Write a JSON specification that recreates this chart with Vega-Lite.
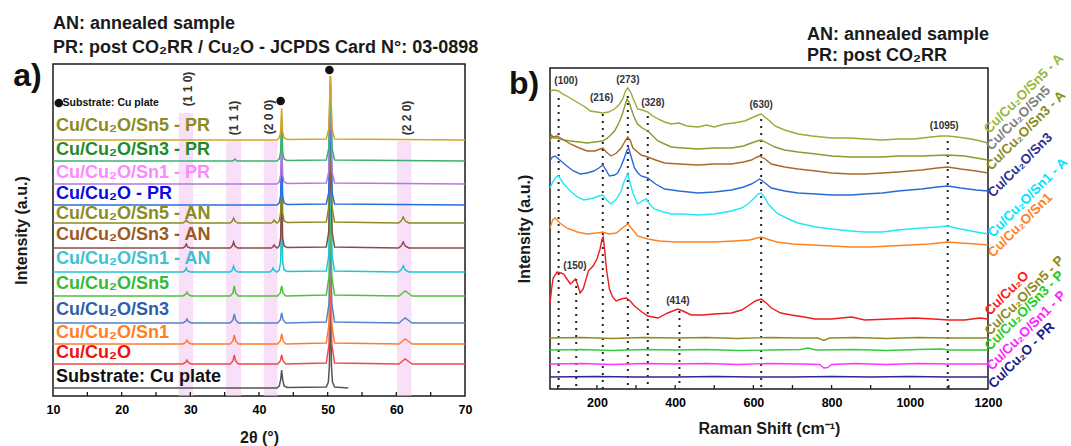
{
"$schema": "https://vega.github.io/schema/vega-lite/v6.json",
"padding": {"left": 12, "top": 14, "right": 0, "bottom": 0},
"bounds": "flush",
"spacing": 85,
"config": {
 "font": "Liberation Sans",
 "view": {"stroke": "#1a1a1a", "strokeWidth": 1.5},
 "axis": {"grid": false, "domain": false, "ticks": false, "labelFont": "Liberation Sans", "labelFontSize": 12.5, "labelFontWeight": "bold", "labelColor": "#000000", "titleFont": "Liberation Sans", "titleFontSize": 16, "titleFontWeight": "bold", "titleColor": "#1a1a1a", "labelFlush": false},
 "axisY": {"ticks": false, "labels": false}
},
"resolve": {"scale": {"color": "independent"}},
"hconcat": [
{
 "width": 412, "height": 332,
 "resolve": {"scale": {"color": "independent"}},
 "layer": [
  {"data": {"values": [{"x":28.3,"x2":30.4,"top":283},{"x":35.2,"x2":37.4,"top":255},{"x":40.7,"x2":42.7,"top":255},{"x":60.1,"x2":62.2,"top":255}]},
   "mark": {"type": "rect", "color": "#f3c6f3", "opacity": 0.55},
   "encoding": {
    "x": {"field": "x", "type": "quantitative", "scale": {"domain": [10, 70], "nice": false, "zero": false}, "title": "2θ (°)", "axis": {"title": "2θ (°)", "values": [10,20,30,40,50,60,70], "format": "d", "labelPadding": 7, "titlePadding": 14, "labelFlush": false, "labelFontWeight": "bold"}},
    "x2": {"field": "x2"},
    "y": {"field": "top", "type": "quantitative", "scale": {"domain": [0, 332], "nice": false}, "title": "Intensity (a.u.)", "axis": {"title": "Intensity (a.u.)", "titlePadding": 24}},
    "y2": {"datum": 0}
   }},
  {"data": {"values": [{"x":15},{"x":20},{"x":25},{"x":30},{"x":35},{"x":40},{"x":45},{"x":50},{"x":55},{"x":60},{"x":65}]},
   "mark": {"type": "rule", "color": "#1a1a1a", "strokeWidth": 1.3},
   "encoding": {"x": {"field": "x", "type": "quantitative"}, "y": {"datum": 0}, "y2": {"datum": 4}}},
  {"data": {"values": [
   {"s":"sub","x":10,"y":8},{"s":"sub","x":42.6,"y":8},{"s":"sub","x":42.95,"y":10},{"s":"sub","x":43.15,"y":16},{"s":"sub","x":43.3,"y":26},{"s":"sub","x":43.45,"y":16},{"s":"sub","x":43.65,"y":10},{"s":"sub","x":44.1,"y":8.5},{"s":"sub","x":49.8,"y":9},{"s":"sub","x":50.1,"y":14},{"s":"sub","x":50.25,"y":30},{"s":"sub","x":50.4,"y":110},{"s":"sub","x":50.55,"y":30},{"s":"sub","x":50.7,"y":14},{"s":"sub","x":51.0,"y":9},{"s":"sub","x":53,"y":8},
   {"s":"c0","x":10,"y":32},{"s":"c0","x":28.9,"y":32},{"s":"c0","x":29.3,"y":33.5},{"s":"c0","x":29.5,"y":36},{"s":"c0","x":29.7,"y":33.5},{"s":"c0","x":30.1,"y":32},{"s":"c0","x":35.8,"y":32},{"s":"c0","x":36.2,"y":35},{"s":"c0","x":36.4,"y":41},{"s":"c0","x":36.6,"y":35},{"s":"c0","x":37.0,"y":32},{"s":"c0","x":42.7,"y":32},{"s":"c0","x":43.1,"y":35},{"s":"c0","x":43.3,"y":41},{"s":"c0","x":43.5,"y":35},{"s":"c0","x":43.9,"y":32},{"s":"c0","x":49.8,"y":33},{"s":"c0","x":50.2,"y":52},{"s":"c0","x":50.4,"y":132},{"s":"c0","x":50.6,"y":52},{"s":"c0","x":51.0,"y":33},{"s":"c0","x":60.4,"y":32},{"s":"c0","x":60.9,"y":35},{"s":"c0","x":61.3,"y":37},{"s":"c0","x":61.7,"y":35},{"s":"c0","x":62.3,"y":32},{"s":"c0","x":70,"y":32},
   {"s":"c1","x":10,"y":52},{"s":"c1","x":28.9,"y":52},{"s":"c1","x":29.3,"y":53.5},{"s":"c1","x":29.5,"y":56},{"s":"c1","x":29.7,"y":53.5},{"s":"c1","x":30.1,"y":52},{"s":"c1","x":35.8,"y":52},{"s":"c1","x":36.2,"y":55},{"s":"c1","x":36.4,"y":61},{"s":"c1","x":36.6,"y":55},{"s":"c1","x":37.0,"y":52},{"s":"c1","x":42.7,"y":52},{"s":"c1","x":43.1,"y":55},{"s":"c1","x":43.3,"y":62},{"s":"c1","x":43.5,"y":55},{"s":"c1","x":43.9,"y":52},{"s":"c1","x":49.8,"y":53},{"s":"c1","x":50.2,"y":72},{"s":"c1","x":50.4,"y":152},{"s":"c1","x":50.6,"y":72},{"s":"c1","x":51.0,"y":53},{"s":"c1","x":60.4,"y":52},{"s":"c1","x":60.9,"y":55},{"s":"c1","x":61.3,"y":57},{"s":"c1","x":61.7,"y":55},{"s":"c1","x":62.3,"y":52},{"s":"c1","x":70,"y":52},
   {"s":"c3","x":10,"y":73},{"s":"c3","x":28.9,"y":73},{"s":"c3","x":29.3,"y":74.5},{"s":"c3","x":29.5,"y":77},{"s":"c3","x":29.7,"y":74.5},{"s":"c3","x":30.1,"y":73},{"s":"c3","x":35.8,"y":73},{"s":"c3","x":36.2,"y":76},{"s":"c3","x":36.4,"y":82},{"s":"c3","x":36.6,"y":76},{"s":"c3","x":37.0,"y":73},{"s":"c3","x":42.7,"y":73},{"s":"c3","x":43.1,"y":76},{"s":"c3","x":43.3,"y":83},{"s":"c3","x":43.5,"y":76},{"s":"c3","x":43.9,"y":73},{"s":"c3","x":49.8,"y":74},{"s":"c3","x":50.2,"y":93},{"s":"c3","x":50.4,"y":173},{"s":"c3","x":50.6,"y":93},{"s":"c3","x":51.0,"y":74},{"s":"c3","x":60.4,"y":73},{"s":"c3","x":60.9,"y":76},{"s":"c3","x":61.3,"y":78},{"s":"c3","x":61.7,"y":76},{"s":"c3","x":62.3,"y":73},{"s":"c3","x":70,"y":73},
   {"s":"c5","x":10,"y":100},{"s":"c5","x":28.9,"y":100},{"s":"c5","x":29.3,"y":101.5},{"s":"c5","x":29.5,"y":104},{"s":"c5","x":29.7,"y":101.5},{"s":"c5","x":30.1,"y":100},{"s":"c5","x":35.8,"y":100},{"s":"c5","x":36.2,"y":103},{"s":"c5","x":36.4,"y":110},{"s":"c5","x":36.6,"y":103},{"s":"c5","x":37.0,"y":100},{"s":"c5","x":42.7,"y":100},{"s":"c5","x":43.1,"y":103},{"s":"c5","x":43.3,"y":110},{"s":"c5","x":43.5,"y":103},{"s":"c5","x":43.9,"y":100},{"s":"c5","x":49.8,"y":101},{"s":"c5","x":50.2,"y":120},{"s":"c5","x":50.4,"y":200},{"s":"c5","x":50.6,"y":120},{"s":"c5","x":51.0,"y":101},{"s":"c5","x":60.4,"y":100},{"s":"c5","x":60.9,"y":103},{"s":"c5","x":61.3,"y":105},{"s":"c5","x":61.7,"y":103},{"s":"c5","x":62.3,"y":100},{"s":"c5","x":70,"y":100},
   {"s":"a1","x":10,"y":124},{"s":"a1","x":28.9,"y":124},{"s":"a1","x":29.2,"y":125},{"s":"a1","x":29.4,"y":128},{"s":"a1","x":29.6,"y":125},{"s":"a1","x":30.0,"y":124},{"s":"a1","x":35.8,"y":124},{"s":"a1","x":36.1,"y":126},{"s":"a1","x":36.3,"y":130},{"s":"a1","x":36.5,"y":126},{"s":"a1","x":36.9,"y":124},{"s":"a1","x":41.6,"y":124},{"s":"a1","x":41.85,"y":125.5},{"s":"a1","x":42.05,"y":128},{"s":"a1","x":42.25,"y":125.5},{"s":"a1","x":42.6,"y":124},{"s":"a1","x":42.95,"y":126},{"s":"a1","x":43.15,"y":134},{"s":"a1","x":43.3,"y":184},{"s":"a1","x":43.45,"y":134},{"s":"a1","x":43.65,"y":126},{"s":"a1","x":44.1,"y":124.5},{"s":"a1","x":49.8,"y":125},{"s":"a1","x":50.15,"y":140},{"s":"a1","x":50.4,"y":224},{"s":"a1","x":50.65,"y":140},{"s":"a1","x":51.0,"y":125},{"s":"a1","x":60.3,"y":124},{"s":"a1","x":60.7,"y":126},{"s":"a1","x":61.0,"y":130},{"s":"a1","x":61.3,"y":126},{"s":"a1","x":61.8,"y":124},{"s":"a1","x":70,"y":124},
   {"s":"a3","x":10,"y":148},{"s":"a3","x":28.9,"y":148},{"s":"a3","x":29.2,"y":149},{"s":"a3","x":29.4,"y":152},{"s":"a3","x":29.6,"y":149},{"s":"a3","x":30.0,"y":148},{"s":"a3","x":35.8,"y":148},{"s":"a3","x":36.1,"y":150},{"s":"a3","x":36.3,"y":154},{"s":"a3","x":36.5,"y":150},{"s":"a3","x":36.9,"y":148},{"s":"a3","x":41.8,"y":148},{"s":"a3","x":42.0,"y":149},{"s":"a3","x":42.2,"y":151},{"s":"a3","x":42.4,"y":149},{"s":"a3","x":42.65,"y":148},{"s":"a3","x":42.95,"y":150},{"s":"a3","x":43.15,"y":158},{"s":"a3","x":43.3,"y":208},{"s":"a3","x":43.45,"y":158},{"s":"a3","x":43.65,"y":150},{"s":"a3","x":44.1,"y":148.5},{"s":"a3","x":49.8,"y":149},{"s":"a3","x":50.15,"y":164},{"s":"a3","x":50.4,"y":248},{"s":"a3","x":50.65,"y":164},{"s":"a3","x":51.0,"y":149},{"s":"a3","x":60.3,"y":148},{"s":"a3","x":60.7,"y":150},{"s":"a3","x":61.0,"y":154},{"s":"a3","x":61.3,"y":150},{"s":"a3","x":61.8,"y":148},{"s":"a3","x":70,"y":148},
   {"s":"a5","x":10,"y":173},{"s":"a5","x":28.9,"y":173},{"s":"a5","x":29.2,"y":174},{"s":"a5","x":29.4,"y":176},{"s":"a5","x":29.6,"y":174},{"s":"a5","x":30.0,"y":173},{"s":"a5","x":35.8,"y":173},{"s":"a5","x":36.1,"y":175},{"s":"a5","x":36.3,"y":178},{"s":"a5","x":36.5,"y":175},{"s":"a5","x":36.9,"y":173},{"s":"a5","x":41.8,"y":173},{"s":"a5","x":42.0,"y":174},{"s":"a5","x":42.2,"y":176},{"s":"a5","x":42.4,"y":174},{"s":"a5","x":42.65,"y":173},{"s":"a5","x":42.95,"y":175},{"s":"a5","x":43.15,"y":183},{"s":"a5","x":43.3,"y":233},{"s":"a5","x":43.45,"y":183},{"s":"a5","x":43.65,"y":175},{"s":"a5","x":44.1,"y":173.5},{"s":"a5","x":49.8,"y":174},{"s":"a5","x":50.15,"y":189},{"s":"a5","x":50.4,"y":273},{"s":"a5","x":50.65,"y":189},{"s":"a5","x":51.0,"y":174},{"s":"a5","x":60.3,"y":173},{"s":"a5","x":60.7,"y":175},{"s":"a5","x":61.0,"y":179},{"s":"a5","x":61.3,"y":175},{"s":"a5","x":61.8,"y":173},{"s":"a5","x":70,"y":173},
   {"s":"p0","x":10,"y":191},{"s":"p0","x":42.6,"y":191},{"s":"p0","x":42.95,"y":193},{"s":"p0","x":43.15,"y":200},{"s":"p0","x":43.3,"y":241},{"s":"p0","x":43.45,"y":200},{"s":"p0","x":43.65,"y":193},{"s":"p0","x":44.1,"y":191.5},{"s":"p0","x":49.8,"y":192},{"s":"p0","x":50.15,"y":203},{"s":"p0","x":50.4,"y":291},{"s":"p0","x":50.65,"y":203},{"s":"p0","x":51.0,"y":192},{"s":"p0","x":70,"y":191},
   {"s":"p1","x":10,"y":212},{"s":"p1","x":42.6,"y":212},{"s":"p1","x":42.95,"y":214},{"s":"p1","x":43.15,"y":221},{"s":"p1","x":43.3,"y":262},{"s":"p1","x":43.45,"y":221},{"s":"p1","x":43.65,"y":214},{"s":"p1","x":44.1,"y":212.5},{"s":"p1","x":49.8,"y":213},{"s":"p1","x":50.15,"y":224},{"s":"p1","x":50.4,"y":312},{"s":"p1","x":50.65,"y":224},{"s":"p1","x":51.0,"y":213},{"s":"p1","x":70,"y":212},
   {"s":"p3","x":10,"y":235},{"s":"p3","x":36.2,"y":235},{"s":"p3","x":36.5,"y":237},{"s":"p3","x":36.8,"y":235},{"s":"p3","x":42.6,"y":235},{"s":"p3","x":42.95,"y":237},{"s":"p3","x":43.15,"y":244},{"s":"p3","x":43.3,"y":280},{"s":"p3","x":43.45,"y":244},{"s":"p3","x":43.65,"y":237},{"s":"p3","x":44.1,"y":235.5},{"s":"p3","x":49.8,"y":236},{"s":"p3","x":50.15,"y":247},{"s":"p3","x":50.4,"y":320},{"s":"p3","x":50.65,"y":247},{"s":"p3","x":51.0,"y":236},{"s":"p3","x":70,"y":235},
   {"s":"p5","x":10,"y":256},{"s":"p5","x":42.6,"y":256},{"s":"p5","x":42.95,"y":258},{"s":"p5","x":43.15,"y":264},{"s":"p5","x":43.3,"y":288},{"s":"p5","x":43.45,"y":264},{"s":"p5","x":43.65,"y":258},{"s":"p5","x":44.1,"y":256.5},{"s":"p5","x":49.8,"y":257},{"s":"p5","x":50.15,"y":267},{"s":"p5","x":50.4,"y":320},{"s":"p5","x":50.65,"y":267},{"s":"p5","x":51.0,"y":257},{"s":"p5","x":70,"y":256}
  ]},
   "mark": {"type": "line", "strokeWidth": 1.5},
   "encoding": {
    "x": {"field": "x", "type": "quantitative"},
    "y": {"field": "y", "type": "quantitative"},
    "color": {"field": "s", "type": "nominal", "legend": null, "scale": {"domain": ["sub","c0","c1","c3","c5","a1","a3","a5","p0","p1","p3","p5"], "range": ["#555555","#f04848","#ff7a30","#5582c8","#4cc238","#22c4d4","#8b4a4a","#8b8b22","#2a6fe0","#b07ae0","#3cb070","#d8a428"]}}
   }},
  {"data": {"values": [{"x":43.15,"y":295},{"x":50.25,"y":326},{"x":10.85,"y":293}]},
   "mark": {"type": "point", "filled": true, "color": "#111111", "opacity": 1, "size": 75},
   "encoding": {"x": {"field": "x", "type": "quantitative"}, "y": {"field": "y", "type": "quantitative"}}},
  {"data": {"values": [{"t":"(1 1 0)","x":29.6,"y":307},{"t":"(1 1 1)","x":36.4,"y":278},{"t":"(2 0 0)","x":41.5,"y":279},{"t":"(2 2 0)","x":61.5,"y":278}]},
   "mark": {"type": "text", "angle": 270, "fontSize": 12, "fontWeight": "bold", "color": "#333333", "align": "center", "baseline": "middle"},
   "encoding": {"x": {"field": "x", "type": "quantitative"}, "y": {"field": "y", "type": "quantitative"}, "text": {"field": "t"}}},
  {"data": {"values": [
   {"k":"p5","t":"Cu/Cu₂O/Sn5 - PR","y":270},{"k":"p3","t":"Cu/Cu₂O/Sn3 - PR","y":246},{"k":"p1","t":"Cu/Cu₂O/Sn1 - PR","y":223},{"k":"p0","t":"Cu/Cu₂O - PR","y":202},{"k":"a5","t":"Cu/Cu₂O/Sn5 - AN","y":182},{"k":"a3","t":"Cu/Cu₂O/Sn3 - AN","y":161},{"k":"a1","t":"Cu/Cu₂O/Sn1 - AN","y":137},{"k":"c5","t":"Cu/Cu₂O/Sn5","y":112},{"k":"c3","t":"Cu/Cu₂O/Sn3","y":86},{"k":"c1","t":"Cu/Cu₂O/Sn1","y":63},{"k":"c0","t":"Cu/Cu₂O","y":43},{"k":"sub","t":"Substrate: Cu plate","y":19}
  ]},
   "mark": {"type": "text", "align": "left", "baseline": "middle", "fontSize": 18, "fontWeight": "bold"},
   "encoding": {"x": {"datum": 10.45, "type": "quantitative"}, "y": {"field": "y", "type": "quantitative"}, "text": {"field": "t"},
    "color": {"field": "k", "type": "nominal", "legend": null, "scale": {"domain": ["p5","p3","p1","p0","a5","a3","a1","c5","c3","c1","c0","sub"], "range": ["#8b8b1e","#1e8a2a","#ff88ff","#0a0ae0","#8b8b1e","#9c5a22","#40c0d0","#33bb33","#2e5fa8","#ff7f27","#ee1111","#111111"]}}}},
  {"data": {"values": [{"t":"Substrate: Cu plate","x":11.4,"y":293}]},
   "mark": {"type": "text", "align": "left", "baseline": "middle", "fontSize": 10.5, "fontWeight": "bold", "color": "#111111"},
   "encoding": {"x": {"field": "x", "type": "quantitative"}, "y": {"field": "y", "type": "quantitative"}, "text": {"field": "t"}}},
  {"data": {"values": [{"t":"AN: annealed sample","x":10,"y":372},{"t":"PR: post CO₂RR / Cu₂O - JCPDS Card N°: 03-0898","x":10,"y":348}]},
   "mark": {"type": "text", "align": "left", "baseline": "middle", "fontSize": 18, "fontWeight": "bold", "color": "#1a1a1a"},
   "encoding": {"x": {"field": "x", "type": "quantitative"}, "y": {"field": "y", "type": "quantitative"}, "text": {"field": "t"}}},
  {"data": {"values": [{"t":"a)","x":4.2,"y":320}]},
   "mark": {"type": "text", "align": "left", "baseline": "middle", "fontSize": 32, "fontWeight": "bold", "color": "#111111"},
   "encoding": {"x": {"field": "x", "type": "quantitative"}, "y": {"field": "y", "type": "quantitative"}, "text": {"field": "t"}}}
 ]
},
{
 "vconcat": [
  {"width": 438, "height": 4, "view": {"stroke": null}, "data": {"values": [{"v": 0}]}, "mark": {"type": "point", "opacity": 0}, "encoding": {}},
  {
   "width": 438, "height": 321,
   "resolve": {"scale": {"color": "independent"}},
   "layer": [
    {"data": {"values": [{"x":102,"top":291},{"x":147,"top":110},{"x":215,"top":275},{"x":279,"top":293},{"x":330,"top":273},{"x":411,"top":78},{"x":620,"top":270},{"x":1097,"top":248}]},
     "mark": {"type": "rule", "strokeDash": [2, 5], "strokeWidth": 2, "color": "#222222"},
     "encoding": {
      "x": {"field": "x", "type": "quantitative", "scale": {"domain": [80, 1200], "nice": false, "zero": false}, "title": "Raman Shift (cm⁻¹)", "axis": {"title": "Raman Shift (cm⁻¹)", "values": [200,400,600,800,1000,1200], "format": "d", "labelPadding": 7, "titlePadding": 12, "labelFlush": false, "labelFontWeight": "bold"}},
      "y": {"field": "top", "type": "quantitative", "scale": {"domain": [0, 321], "nice": false}, "title": "Intensity (a.u.)", "axis": {"title": "Intensity (a.u.)", "titlePadding": 18}},
      "y2": {"datum": 0}
     }},
    {"data": {"values": [{"x":100},{"x":200},{"x":300},{"x":400},{"x":500},{"x":600},{"x":700},{"x":800},{"x":900},{"x":1000},{"x":1100}]},
     "mark": {"type": "rule", "color": "#1a1a1a", "strokeWidth": 1.3},
     "encoding": {"x": {"field": "x", "type": "quantitative"}, "y": {"datum": 0}, "y2": {"datum": 4}}},
    {"data": {"values": [
     {"s":"r5a","x":80,"y":298},{"s":"r5a","x":90,"y":299},{"s":"r5a","x":102,"y":298},{"s":"r5a","x":112,"y":295},{"s":"r5a","x":123,"y":293},{"s":"r5a","x":140,"y":289},{"s":"r5a","x":157,"y":285},{"s":"r5a","x":170,"y":282},{"s":"r5a","x":183,"y":278},{"s":"r5a","x":200,"y":277},{"s":"r5a","x":215,"y":276},{"s":"r5a","x":230,"y":277},{"s":"r5a","x":245,"y":280},{"s":"r5a","x":256,"y":284},{"s":"r5a","x":266,"y":290},{"s":"r5a","x":273,"y":298},{"s":"r5a","x":279,"y":301},{"s":"r5a","x":286,"y":297},{"s":"r5a","x":292,"y":291},{"s":"r5a","x":304,"y":280},{"s":"r5a","x":316,"y":279},{"s":"r5a","x":330,"y":277},{"s":"r5a","x":343,"y":273},{"s":"r5a","x":356,"y":270},{"s":"r5a","x":373,"y":267},{"s":"r5a","x":390,"y":265},{"s":"r5a","x":410,"y":266},{"s":"r5a","x":430,"y":263},{"s":"r5a","x":459,"y":262},{"s":"r5a","x":480,"y":264},{"s":"r5a","x":500,"y":262},{"s":"r5a","x":527,"y":265},{"s":"r5a","x":550,"y":266},{"s":"r5a","x":578,"y":268},{"s":"r5a","x":595,"y":271},{"s":"r5a","x":612,"y":274},{"s":"r5a","x":620,"y":275},{"s":"r5a","x":629,"y":272},{"s":"r5a","x":642,"y":268},{"s":"r5a","x":655,"y":263},{"s":"r5a","x":680,"y":259},{"s":"r5a","x":714,"y":255},{"s":"r5a","x":750,"y":253},{"s":"r5a","x":800,"y":251},{"s":"r5a","x":850,"y":251},{"s":"r5a","x":885,"y":250},{"s":"r5a","x":930,"y":249},{"s":"r5a","x":970,"y":250},{"s":"r5a","x":1010,"y":250},{"s":"r5a","x":1055,"y":252},{"s":"r5a","x":1080,"y":253},{"s":"r5a","x":1097,"y":253},{"s":"r5a","x":1120,"y":252},{"s":"r5a","x":1140,"y":251},{"s":"r5a","x":1170,"y":249},{"s":"r5a","x":1200,"y":246},
     {"s":"r5","x":80,"y":248},{"s":"r5","x":84,"y":254},{"s":"r5","x":90,"y":251},{"s":"r5","x":98,"y":251},{"s":"r5","x":115,"y":249},{"s":"r5","x":132,"y":248},{"s":"r5","x":155,"y":247},{"s":"r5","x":175,"y":246},{"s":"r5","x":195,"y":247},{"s":"r5","x":215,"y":248},{"s":"r5","x":230,"y":252},{"s":"r5","x":245,"y":258},{"s":"r5","x":256,"y":266},{"s":"r5","x":266,"y":276},{"s":"r5","x":272,"y":284},{"s":"r5","x":277,"y":290},{"s":"r5","x":282,"y":287},{"s":"r5","x":287,"y":281},{"s":"r5","x":295,"y":272},{"s":"r5","x":304,"y":265},{"s":"r5","x":316,"y":261},{"s":"r5","x":330,"y":258},{"s":"r5","x":343,"y":253},{"s":"r5","x":356,"y":248},{"s":"r5","x":373,"y":245},{"s":"r5","x":390,"y":242},{"s":"r5","x":420,"y":241},{"s":"r5","x":459,"y":240},{"s":"r5","x":500,"y":241},{"s":"r5","x":544,"y":241},{"s":"r5","x":575,"y":243},{"s":"r5","x":595,"y":246},{"s":"r5","x":610,"y":248},{"s":"r5","x":620,"y":249},{"s":"r5","x":635,"y":246},{"s":"r5","x":655,"y":242},{"s":"r5","x":680,"y":239},{"s":"r5","x":714,"y":237},{"s":"r5","x":760,"y":235},{"s":"r5","x":800,"y":233},{"s":"r5","x":850,"y":232},{"s":"r5","x":885,"y":232},{"s":"r5","x":930,"y":232},{"s":"r5","x":970,"y":233},{"s":"r5","x":1030,"y":233},{"s":"r5","x":1097,"y":234},{"s":"r5","x":1140,"y":233},{"s":"r5","x":1170,"y":231},{"s":"r5","x":1200,"y":229},
     {"s":"r3a","x":80,"y":250},{"s":"r3a","x":88,"y":252},{"s":"r3a","x":98,"y":253},{"s":"r3a","x":115,"y":249},{"s":"r3a","x":132,"y":245},{"s":"r3a","x":155,"y":241},{"s":"r3a","x":175,"y":238},{"s":"r3a","x":195,"y":238},{"s":"r3a","x":208,"y":240},{"s":"r3a","x":215,"y":241},{"s":"r3a","x":224,"y":237},{"s":"r3a","x":236,"y":233},{"s":"r3a","x":250,"y":236},{"s":"r3a","x":262,"y":241},{"s":"r3a","x":272,"y":248},{"s":"r3a","x":279,"y":252},{"s":"r3a","x":286,"y":248},{"s":"r3a","x":292,"y":241},{"s":"r3a","x":304,"y":237},{"s":"r3a","x":313,"y":234},{"s":"r3a","x":330,"y":232},{"s":"r3a","x":350,"y":229},{"s":"r3a","x":373,"y":226},{"s":"r3a","x":410,"y":225},{"s":"r3a","x":459,"y":224},{"s":"r3a","x":500,"y":225},{"s":"r3a","x":544,"y":225},{"s":"r3a","x":575,"y":227},{"s":"r3a","x":595,"y":229},{"s":"r3a","x":610,"y":232},{"s":"r3a","x":616,"y":233},{"s":"r3a","x":630,"y":230},{"s":"r3a","x":646,"y":225},{"s":"r3a","x":680,"y":222},{"s":"r3a","x":714,"y":220},{"s":"r3a","x":760,"y":218},{"s":"r3a","x":800,"y":216},{"s":"r3a","x":850,"y":215},{"s":"r3a","x":885,"y":215},{"s":"r3a","x":930,"y":216},{"s":"r3a","x":970,"y":217},{"s":"r3a","x":1030,"y":219},{"s":"r3a","x":1070,"y":221},{"s":"r3a","x":1097,"y":222},{"s":"r3a","x":1130,"y":220},{"s":"r3a","x":1170,"y":218},{"s":"r3a","x":1200,"y":216},
     {"s":"r3","x":80,"y":228},{"s":"r3","x":86,"y":232},{"s":"r3","x":93,"y":233},{"s":"r3","x":105,"y":229},{"s":"r3","x":123,"y":223},{"s":"r3","x":140,"y":218},{"s":"r3","x":157,"y":215},{"s":"r3","x":175,"y":216},{"s":"r3","x":192,"y":218},{"s":"r3","x":205,"y":221},{"s":"r3","x":215,"y":224},{"s":"r3","x":223,"y":219},{"s":"r3","x":232,"y":213},{"s":"r3","x":245,"y":214},{"s":"r3","x":253,"y":216},{"s":"r3","x":262,"y":223},{"s":"r3","x":270,"y":231},{"s":"r3","x":276,"y":238},{"s":"r3","x":281,"y":241},{"s":"r3","x":287,"y":233},{"s":"r3","x":296,"y":221},{"s":"r3","x":305,"y":216},{"s":"r3","x":313,"y":213},{"s":"r3","x":330,"y":211},{"s":"r3","x":350,"y":205},{"s":"r3","x":373,"y":200},{"s":"r3","x":410,"y":198},{"s":"r3","x":459,"y":196},{"s":"r3","x":500,"y":197},{"s":"r3","x":544,"y":199},{"s":"r3","x":575,"y":202},{"s":"r3","x":595,"y":205},{"s":"r3","x":608,"y":208},{"s":"r3","x":616,"y":210},{"s":"r3","x":630,"y":206},{"s":"r3","x":646,"y":201},{"s":"r3","x":680,"y":198},{"s":"r3","x":714,"y":196},{"s":"r3","x":760,"y":195},{"s":"r3","x":800,"y":194},{"s":"r3","x":850,"y":194},{"s":"r3","x":885,"y":195},{"s":"r3","x":930,"y":196},{"s":"r3","x":970,"y":198},{"s":"r3","x":1030,"y":200},{"s":"r3","x":1070,"y":202},{"s":"r3","x":1097,"y":203},{"s":"r3","x":1130,"y":201},{"s":"r3","x":1170,"y":199},{"s":"r3","x":1200,"y":198},
     {"s":"r1a","x":80,"y":201},{"s":"r1a","x":88,"y":208},{"s":"r1a","x":95,"y":212},{"s":"r1a","x":102,"y":213},{"s":"r1a","x":115,"y":205},{"s":"r1a","x":132,"y":198},{"s":"r1a","x":150,"y":192},{"s":"r1a","x":166,"y":189},{"s":"r1a","x":180,"y":190},{"s":"r1a","x":192,"y":191},{"s":"r1a","x":205,"y":193},{"s":"r1a","x":215,"y":194},{"s":"r1a","x":225,"y":189},{"s":"r1a","x":236,"y":185},{"s":"r1a","x":250,"y":190},{"s":"r1a","x":262,"y":198},{"s":"r1a","x":270,"y":208},{"s":"r1a","x":279,"y":215},{"s":"r1a","x":285,"y":206},{"s":"r1a","x":292,"y":196},{"s":"r1a","x":304,"y":185},{"s":"r1a","x":315,"y":188},{"s":"r1a","x":326,"y":190},{"s":"r1a","x":337,"y":184},{"s":"r1a","x":347,"y":180},{"s":"r1a","x":370,"y":177},{"s":"r1a","x":390,"y":175},{"s":"r1a","x":420,"y":175},{"s":"r1a","x":459,"y":174},{"s":"r1a","x":500,"y":175},{"s":"r1a","x":544,"y":178},{"s":"r1a","x":570,"y":181},{"s":"r1a","x":586,"y":185},{"s":"r1a","x":600,"y":190},{"s":"r1a","x":612,"y":195},{"s":"r1a","x":620,"y":196},{"s":"r1a","x":630,"y":191},{"s":"r1a","x":638,"y":185},{"s":"r1a","x":650,"y":180},{"s":"r1a","x":663,"y":175},{"s":"r1a","x":690,"y":170},{"s":"r1a","x":714,"y":166},{"s":"r1a","x":760,"y":162},{"s":"r1a","x":800,"y":160},{"s":"r1a","x":850,"y":158},{"s":"r1a","x":885,"y":157},{"s":"r1a","x":930,"y":157},{"s":"r1a","x":970,"y":159},{"s":"r1a","x":1030,"y":161},{"s":"r1a","x":1070,"y":162},{"s":"r1a","x":1097,"y":163},{"s":"r1a","x":1130,"y":160},{"s":"r1a","x":1170,"y":157},{"s":"r1a","x":1200,"y":155},
     {"s":"r1","x":80,"y":161},{"s":"r1","x":87,"y":169},{"s":"r1","x":93,"y":171},{"s":"r1","x":105,"y":166},{"s":"r1","x":123,"y":161},{"s":"r1","x":150,"y":157},{"s":"r1","x":175,"y":155},{"s":"r1","x":200,"y":156},{"s":"r1","x":215,"y":157},{"s":"r1","x":230,"y":155},{"s":"r1","x":250,"y":156},{"s":"r1","x":265,"y":161},{"s":"r1","x":279,"y":165},{"s":"r1","x":290,"y":160},{"s":"r1","x":304,"y":153},{"s":"r1","x":330,"y":150},{"s":"r1","x":360,"y":148},{"s":"r1","x":400,"y":147},{"s":"r1","x":450,"y":147},{"s":"r1","x":500,"y":147},{"s":"r1","x":550,"y":148},{"s":"r1","x":590,"y":149},{"s":"r1","x":610,"y":151},{"s":"r1","x":620,"y":152},{"s":"r1","x":635,"y":150},{"s":"r1","x":660,"y":147},{"s":"r1","x":700,"y":145},{"s":"r1","x":750,"y":144},{"s":"r1","x":800,"y":143},{"s":"r1","x":850,"y":142},{"s":"r1","x":900,"y":142},{"s":"r1","x":950,"y":143},{"s":"r1","x":1000,"y":144},{"s":"r1","x":1050,"y":145},{"s":"r1","x":1097,"y":147},{"s":"r1","x":1130,"y":146},{"s":"r1","x":1170,"y":145},{"s":"r1","x":1200,"y":144},
     {"s":"r0","x":80,"y":85},{"s":"r0","x":84,"y":100},{"s":"r0","x":88,"y":111},{"s":"r0","x":98,"y":117},{"s":"r0","x":108,"y":116},{"s":"r0","x":115,"y":115},{"s":"r0","x":125,"y":109},{"s":"r0","x":132,"y":105},{"s":"r0","x":140,"y":108},{"s":"r0","x":145,"y":110},{"s":"r0","x":150,"y":105},{"s":"r0","x":157,"y":96},{"s":"r0","x":165,"y":100},{"s":"r0","x":178,"y":118},{"s":"r0","x":190,"y":123},{"s":"r0","x":200,"y":130},{"s":"r0","x":208,"y":140},{"s":"r0","x":213,"y":150},{"s":"r0","x":216,"y":152},{"s":"r0","x":220,"y":138},{"s":"r0","x":225,"y":118},{"s":"r0","x":232,"y":100},{"s":"r0","x":240,"y":92},{"s":"r0","x":249,"y":88},{"s":"r0","x":262,"y":90},{"s":"r0","x":275,"y":91},{"s":"r0","x":285,"y":88},{"s":"r0","x":296,"y":83},{"s":"r0","x":315,"y":77},{"s":"r0","x":330,"y":73},{"s":"r0","x":356,"y":71},{"s":"r0","x":381,"y":76},{"s":"r0","x":407,"y":80},{"s":"r0","x":420,"y":78},{"s":"r0","x":441,"y":74},{"s":"r0","x":470,"y":74},{"s":"r0","x":501,"y":75},{"s":"r0","x":544,"y":76},{"s":"r0","x":570,"y":79},{"s":"r0","x":586,"y":83},{"s":"r0","x":605,"y":88},{"s":"r0","x":620,"y":90},{"s":"r0","x":633,"y":86},{"s":"r0","x":646,"y":81},{"s":"r0","x":670,"y":76},{"s":"r0","x":697,"y":74},{"s":"r0","x":730,"y":72},{"s":"r0","x":757,"y":70},{"s":"r0","x":800,"y":70},{"s":"r0","x":851,"y":72},{"s":"r0","x":885,"y":69},{"s":"r0","x":950,"y":70},{"s":"r0","x":1013,"y":71},{"s":"r0","x":1060,"y":70},{"s":"r0","x":1100,"y":69},{"s":"r0","x":1140,"y":69},{"s":"r0","x":1180,"y":71},{"s":"r0","x":1200,"y":70},
     {"s":"q5","x":80,"y":51},{"s":"q5","x":160,"y":51.5},{"s":"q5","x":240,"y":50.5},{"s":"q5","x":320,"y":51.5},{"s":"q5","x":400,"y":51},{"s":"q5","x":480,"y":51.5},{"s":"q5","x":560,"y":50.5},{"s":"q5","x":640,"y":51.5},{"s":"q5","x":720,"y":51},{"s":"q5","x":765,"y":51},{"s":"q5","x":780,"y":48.5},{"s":"q5","x":795,"y":51},{"s":"q5","x":860,"y":51.5},{"s":"q5","x":940,"y":50.5},{"s":"q5","x":1020,"y":51.5},{"s":"q5","x":1100,"y":51},{"s":"q5","x":1200,"y":51},
     {"s":"q3","x":80,"y":39},{"s":"q3","x":160,"y":39.5},{"s":"q3","x":240,"y":38.5},{"s":"q3","x":320,"y":39.5},{"s":"q3","x":400,"y":39},{"s":"q3","x":480,"y":39.5},{"s":"q3","x":560,"y":38.5},{"s":"q3","x":640,"y":39},{"s":"q3","x":720,"y":39.5},{"s":"q3","x":740,"y":41},{"s":"q3","x":760,"y":39},{"s":"q3","x":860,"y":39.5},{"s":"q3","x":940,"y":38.5},{"s":"q3","x":1020,"y":39.5},{"s":"q3","x":1080,"y":40},{"s":"q3","x":1100,"y":39},{"s":"q3","x":1200,"y":39},
     {"s":"q1","x":80,"y":25},{"s":"q1","x":160,"y":25.5},{"s":"q1","x":240,"y":24.5},{"s":"q1","x":320,"y":25.5},{"s":"q1","x":400,"y":25},{"s":"q1","x":480,"y":25.5},{"s":"q1","x":560,"y":24.5},{"s":"q1","x":640,"y":25.5},{"s":"q1","x":720,"y":25},{"s":"q1","x":770,"y":24.5},{"s":"q1","x":780,"y":21},{"s":"q1","x":790,"y":21.5},{"s":"q1","x":800,"y":24.5},{"s":"q1","x":860,"y":25.5},{"s":"q1","x":940,"y":24.5},{"s":"q1","x":1020,"y":25.5},{"s":"q1","x":1100,"y":25},{"s":"q1","x":1200,"y":25},
     {"s":"q0","x":80,"y":12},{"s":"q0","x":200,"y":12.5},{"s":"q0","x":300,"y":12},{"s":"q0","x":400,"y":12},{"s":"q0","x":500,"y":12.5},{"s":"q0","x":600,"y":12},{"s":"q0","x":700,"y":12},{"s":"q0","x":800,"y":12.5},{"s":"q0","x":900,"y":12},{"s":"q0","x":1000,"y":12.5},{"s":"q0","x":1100,"y":12},{"s":"q0","x":1200,"y":12}
    ]},
     "mark": {"type": "line", "strokeWidth": 1.4},
     "encoding": {
      "x": {"field": "x", "type": "quantitative"},
      "y": {"field": "y", "type": "quantitative"},
      "color": {"field": "s", "type": "nominal", "legend": null, "scale": {"domain": ["r5a","r5","r3a","r3","r1a","r1","r0","q5","q3","q1","q0"], "range": ["#9aaa38","#8a9a2c","#a86a28","#2a6ad8","#22e8f5","#ff8020","#ee1c1c","#8b8b1e","#33cc44","#ff33ff","#2a2a90"]}}
     }},
    {"data": {"values": [{"t":"(100)","x":121,"y":308},{"t":"(216)","x":212,"y":291},{"t":"(273)","x":279,"y":309},{"t":"(328)","x":343,"y":286},{"t":"(630)","x":620,"y":284},{"t":"(1095)","x":1088,"y":263},{"t":"(150)","x":144,"y":123},{"t":"(414)","x":407,"y":88}]},
     "mark": {"type": "text", "fontSize": 10, "fontWeight": "bold", "color": "#333333", "align": "center", "baseline": "middle"},
     "encoding": {"x": {"field": "x", "type": "quantitative"}, "y": {"field": "y", "type": "quantitative"}, "text": {"field": "t"}}},
    {"data": {"values": [
     {"k":"L5a","t":"Cu/Cu₂O/Sn5 - AN","x":1203,"y":255},{"k":"L5","t":"Cu/Cu₂O/Sn5","x":1208,"y":238},{"k":"L3a","t":"Cu/Cu₂O/Sn3 - AN","x":1208,"y":218},{"k":"L3","t":"Cu/Cu₂O/Sn3","x":1213,"y":191},{"k":"L1a","t":"Cu/Cu₂O/Sn1 - AN","x":1213,"y":151},{"k":"L1","t":"Cu/Cu₂O/Sn1","x":1213,"y":131},{"k":"L0","t":"Cu/Cu₂O","x":1205,"y":73},{"k":"P5","t":"Cu/Cu₂O/Sn5 - PR","x":1205,"y":53},{"k":"P3","t":"Cu/Cu₂O/Sn3 - PR","x":1205,"y":38},{"k":"P1","t":"Cu/Cu₂O/Sn1 - PR","x":1210,"y":18},{"k":"P0","t":"Cu/Cu₂O - PR","x":1215,"y":0}
    ]},
     "mark": {"type": "text", "angle": -45, "align": "left", "baseline": "alphabetic", "fontSize": 13.5, "fontWeight": "bold", "limit": 113, "ellipsis": "\u200b"},
     "encoding": {"x": {"field": "x", "type": "quantitative"}, "y": {"field": "y", "type": "quantitative"}, "text": {"field": "t"},
      "color": {"field": "k", "type": "nominal", "legend": null, "scale": {"domain": ["L5a","L5","L3a","L3","L1a","L1","L0","P5","P3","P1","P0"], "range": ["#9ab83a","#808080","#8b8b1e","#2e3192","#00e5ff","#ff7f27","#ff1a1a","#8b8b1e","#22cc22","#ff22ff","#1a1a8c"]}}}},
    {"data": {"values": [{"t":"AN: annealed sample","x":737,"y":354},{"t":"PR: post CO₂RR","x":737,"y":333}]},
     "mark": {"type": "text", "align": "left", "baseline": "middle", "fontSize": 18, "fontWeight": "bold", "color": "#1a1a1a"},
     "encoding": {"x": {"field": "x", "type": "quantitative"}, "y": {"field": "y", "type": "quantitative"}, "text": {"field": "t"}}},
    {"data": {"values": [{"t":"b)","x":-25,"y":305}]},
     "mark": {"type": "text", "align": "left", "baseline": "middle", "fontSize": 32, "fontWeight": "bold", "color": "#111111"},
     "encoding": {"x": {"field": "x", "type": "quantitative"}, "y": {"field": "y", "type": "quantitative"}, "text": {"field": "t"}}}
   ]
  }
 ],
 "spacing": 0,
 "bounds": "flush"
}
]
}
